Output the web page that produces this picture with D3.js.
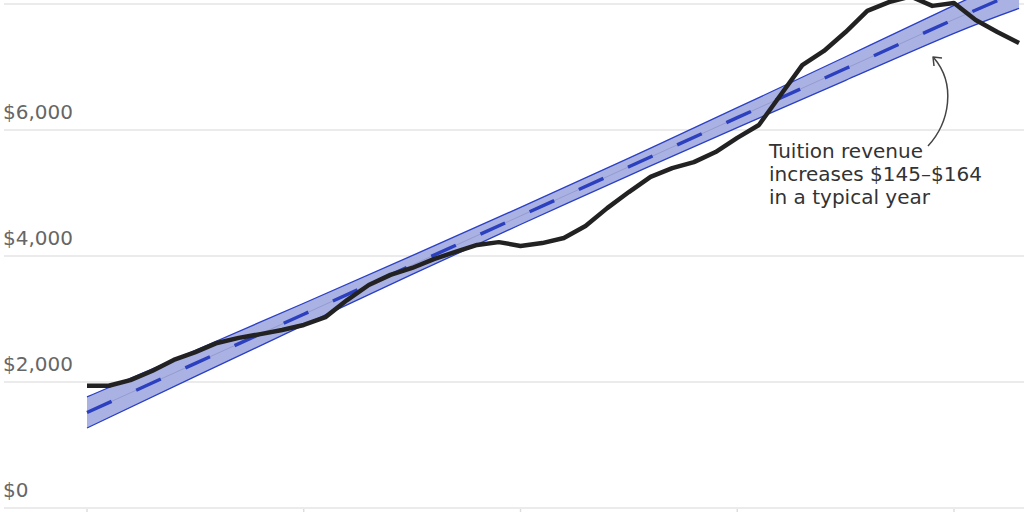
<!DOCTYPE html>
<html>
<head>
<meta charset="utf-8">
<script src="https://cdn.jsdelivr.net/npm/d3@7"></script>
<style>
  html, body { margin: 0; padding: 0; background: #fff; }
  svg { display: block; }
</style>
</head>
<body>
<svg id="chart" width="1024" height="512"></svg>
<script>
// ---- data ----
const years = [1980,1981,1982,1983,1984,1985,1986,1987,1988,1989,
               1990,1991,1992,1993,1994,1995,1996,1997,1998,1999,
               2000,2001,2002,2003,2004,2005,2006,2007,2008,2009,
               2010,2011,2012,2013,2014,2015,2016,2017,2018,2019,
               2020,2021,2022,2023];
const revenue = [1940,1940,2030,2175,2350,2475,2620,2700,2760,2825,
                 2905,3030,3300,3540,3700,3810,3950,4065,4175,4220,
                 4160,4205,4285,4475,4760,5015,5255,5395,5490,5650,
                 5875,6080,6555,7030,7255,7555,7890,8030,8120,7970,
                 8015,7745,7555,7380];

const trendYears = [1980,1985,1990,1995,2000,2005,2010,2015,2020,2023];
const trendMid   = [1516,2296,3076,3856,4636,5416,6196,6976,7756,8200];
const trendLow   = [1270,2088,2902,3707,4500,5277,6038,6789,7533,7930];
const trendHigh  = [1763,2504,3250,4005,4772,5555,6354,7163,7979,8460];

const yTicks = [0,2000,4000,6000,8000];
const xTicks = [1980,1990,2000,2010,2020];
const noteLines = ["Tuition revenue", "increases $145\u2013$164", "in a typical year"];

// ---- scales ----
const svg = d3.select("#chart");
const x = d3.scaleLinear().domain([1980, 2020]).range([87, 954]);
const y = d3.scaleLinear().domain([0, 8000]).range([508, 4]);

// gridlines
svg.append("g").selectAll("line").data(yTicks).join("line")
  .attr("x1", 4).attr("x2", 1024)
  .attr("y1", d => y(d)).attr("y2", d => y(d))
  .attr("stroke", "#e5e5e5").attr("stroke-width", 1.6);

// x ticks
svg.append("g").selectAll("line").data(xTicks).join("line")
  .attr("x1", d => x(d)).attr("x2", d => x(d))
  .attr("y1", y(0) + 1).attr("y2", y(0) + 8)
  .attr("stroke", "#dcdcdc").attr("stroke-width", 1.4);

// y labels
svg.append("g").selectAll("text").data(yTicks.filter(d => d < 8000)).join("text")
  .attr("x", 3).attr("y", d => y(d) - 11)
  .attr("font-family", "DejaVu Sans, sans-serif")
  .attr("font-size", 20).attr("fill", "#666")
  .text(d => "$" + d3.format(",")(d));

// trend band
const band = trendYears.map((yr, i) => ({yr, lo: trendLow[i], hi: trendHigh[i], mid: trendMid[i]}));
svg.append("path").datum(band)
  .attr("d", d3.area().x(d => x(d.yr)).y0(d => y(d.lo)).y1(d => y(d.hi)).curve(d3.curveNatural))
  .attr("fill", "#aab2e4");
["lo", "hi"].forEach(k => {
  svg.append("path").datum(band)
    .attr("d", d3.line().x(d => x(d.yr)).y(d => y(d[k])).curve(d3.curveNatural))
    .attr("fill", "none").attr("stroke", "#2a3fc4").attr("stroke-width", 1.3);
});
const midLine = d3.line().x(d => x(d.yr)).y(d => y(d.mid));
svg.append("path").datum(band).attr("d", midLine)
  .attr("fill", "none").attr("stroke", "#8e94c8").attr("stroke-width", 0.8);
svg.append("path").datum(band).attr("d", midLine)
  .attr("fill", "none").attr("stroke", "#2b3fbf").attr("stroke-width", 3.4)
  .attr("stroke-dasharray", "27,27");

// actual revenue line
const series = years.map((yr, i) => ({yr, v: revenue[i]}));
svg.append("path").datum(series)
  .attr("d", d3.line().x(d => x(d.yr)).y(d => y(d.v)))
  .attr("fill", "none").attr("stroke", "#222").attr("stroke-width", 4.5)
  .attr("stroke-linejoin", "round");

// annotation
const note = svg.append("text")
  .attr("font-family", "DejaVu Sans, sans-serif")
  .attr("font-size", 20).attr("fill", "#333");
noteLines.forEach((t, i) => {
  note.append("tspan").attr("x", 769).attr("y", 158 + i * 23).text(t);
});
svg.append("path")
  .attr("d", "M928,146 C950,122 956,84 934,58")
  .attr("fill", "none").attr("stroke", "#444").attr("stroke-width", 1.5);
svg.append("path")
  .attr("d", "M942,58 L933,57 L934,66")
  .attr("fill", "none").attr("stroke", "#444").attr("stroke-width", 1.5)
  .attr("stroke-linejoin", "round");
</script>
</body>
</html>
